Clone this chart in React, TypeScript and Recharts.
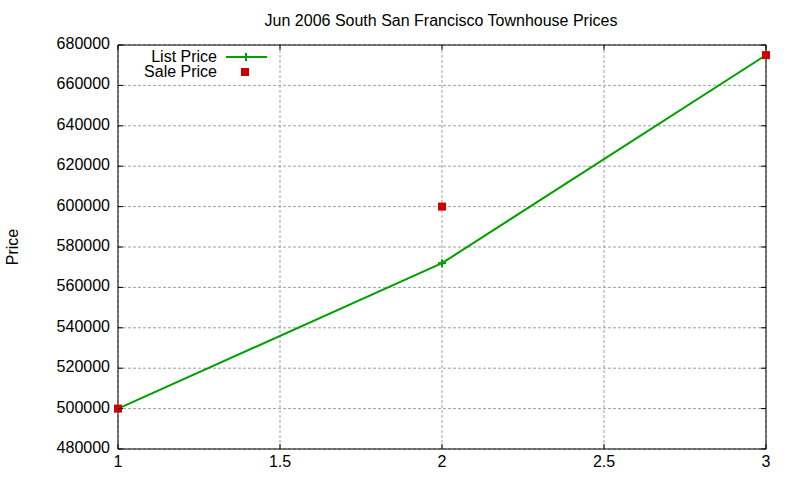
import React from 'react';
import {
  ComposedChart,
  Line,
  XAxis,
  YAxis,
  CartesianGrid,
  ReferenceArea,
  Legend,
} from 'recharts';

const xValues = [1, 2, 3];
const listPrices = [500000, 572000, 675000];
const salePrices = [500000, 600000, 675000];
const xTicks = [1, 1.5, 2, 2.5, 3];
const yTicks = [480000, 500000, 520000, 540000, 560000, 580000, 600000, 620000, 640000, 660000, 680000];
const seriesNames = ['List Price', 'Sale Price'];
const titleText = 'Jun 2006 South San Francisco Townhouse Prices';
const yLabelText = 'Price';

const data = xValues.map((x, i) => ({ x, list: listPrices[i], sale: salePrices[i] }));

const W = 800;
const H = 480;
const PL = 118;
const PR = 766;
const PT = 45;
const PB = 449;
const FONT = '"Liberation Sans", Arial, sans-serif';
const GREEN = '#00a000';
const RED = '#cc0000';
const TICK = 5;

const YTick = (props: any) => {
  const { y, payload } = props;
  return (
    <g>
      <line x1={PL} x2={PL + TICK} y1={y} y2={y} stroke="#000" strokeWidth={1} />
      <line x1={PR - TICK} x2={PR} y1={y} y2={y} stroke="#000" strokeWidth={1} />
      <text x={110} y={y} dy={4} textAnchor="end" fontSize={16} fontFamily={FONT} fill="#000">
        {payload.value}
      </text>
    </g>
  );
};

const XTick = (props: any) => {
  const { x, payload } = props;
  return (
    <g>
      <line x1={x} x2={x} y1={PB} y2={PB - TICK} stroke="#000" strokeWidth={1} />
      <line x1={x} x2={x} y1={PT} y2={PT + TICK} stroke="#000" strokeWidth={1} />
      <text x={x} y={467} textAnchor="middle" fontSize={16} fontFamily={FONT} fill="#000">
        {payload.value}
      </text>
    </g>
  );
};

const PlusDot = (props: any) => {
  const { cx, cy } = props;
  if (cx == null || cy == null) return null;
  return (
    <g>
      <line x1={cx - 4} x2={cx + 4} y1={cy} y2={cy} stroke={GREEN} strokeWidth={2} />
      <line x1={cx} x2={cx} y1={cy - 4} y2={cy + 4} stroke={GREEN} strokeWidth={2} />
    </g>
  );
};

const SquareDot = (props: any) => {
  const { cx, cy } = props;
  if (cx == null || cy == null) return null;
  return <rect x={cx - 4} y={cy - 4} width={8} height={8} fill={RED} stroke="none" />;
};

const LegendContent = () => (
  <div style={{ fontFamily: FONT, fontSize: 16, color: '#000', position: 'relative', width: 170, height: 36 }}>
    <div style={{ position: 'absolute', right: 70, top: 0, lineHeight: '15px', whiteSpace: 'nowrap' }}>{seriesNames[0]}</div>
    <div style={{ position: 'absolute', right: 70, top: 15, lineHeight: '15px', whiteSpace: 'nowrap' }}>{seriesNames[1]}</div>
    <svg style={{ position: 'absolute', left: 105, top: 0 }} width={50} height={36}>
      <line x1={4} x2={45} y1={8} y2={8} stroke={GREEN} strokeWidth={2} />
      <line x1={24} x2={24} y1={4} y2={12} stroke={GREEN} strokeWidth={2} />
      <line x1={20} x2={28} y1={8} y2={8} stroke={GREEN} strokeWidth={2} />
      <rect x={19} y={19} width={8} height={8} fill={RED} />
    </svg>
  </div>
);

export default function App() {
  return (
    <div style={{ position: 'absolute', left: 0, top: 0, width: W, height: H, background: '#fff' }}>
      <ComposedChart
        width={W}
        height={H}
        data={data}
        margin={{ top: PT, right: W - PR, bottom: 0, left: 0 }}
      >
        <CartesianGrid stroke="#a0a0a0" strokeDasharray="3 2" horizontalValues={yTicks} verticalValues={xTicks} />
        <ReferenceArea x1={1} x2={3} y1={480000} y2={680000} stroke="#000" strokeWidth={1} fill="none" fillOpacity={0} />
        <XAxis
          dataKey="x"
          type="number"
          domain={[1, 3]}
          ticks={xTicks}
          height={H - PB}
          axisLine={false}
          tickLine={false}
          tick={<XTick />}
          interval={0}
        />
        <YAxis
          type="number"
          domain={[480000, 680000]}
          ticks={yTicks}
          width={PL}
          axisLine={false}
          tickLine={false}
          tick={<YTick />}
          interval={0}
        />
        <Legend
          layout="vertical"
          align="center"
          verticalAlign="middle"
          content={<LegendContent />}
          wrapperStyle={{ position: 'absolute', left: 117, top: 49, width: 170, height: 36 }}
        />
        <Line
          dataKey="list"
          name={seriesNames[0]}
          stroke={GREEN}
          strokeWidth={2}
          dot={<PlusDot />}
          activeDot={false}
          isAnimationActive={false}
        />
        <Line
          dataKey="sale"
          name={seriesNames[1]}
          stroke="none"
          strokeWidth={0}
          dot={<SquareDot />}
          activeDot={false}
          isAnimationActive={false}
        />
        <text x={441} y={26} textAnchor="middle" fontSize={16} fontFamily={FONT} fill="#000">
          {titleText}
        </text>
        <text
          x={12}
          y={247}
          transform="rotate(-90 12 247)"
          textAnchor="middle"
          dominantBaseline="central"
          fontSize={16}
          fontFamily={FONT}
          fill="#000"
        >
          {yLabelText}
        </text>
      </ComposedChart>
    </div>
  );
}
